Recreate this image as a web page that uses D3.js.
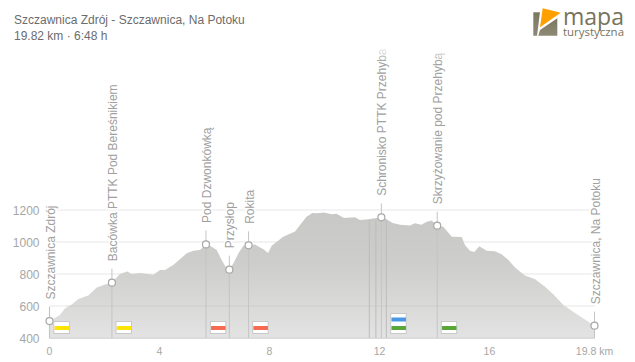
<!DOCTYPE html>
<html><head><meta charset="utf-8">
<script src="https://cdn.jsdelivr.net/npm/d3@7"></script>
<style>html,body{margin:0;padding:0;background:#fff}svg{display:block}text{font-family:"Liberation Sans",Arial,sans-serif}</style>
</head><body><svg id="c" width="635" height="362"></svg>
<script>
const titleLines = ["Szczawnica Zdrój - Szczawnica, Na Potoku", "19.82 km · 6:48 h"];
const km = [0,.38,.56,.81,1.05,1.41,1.72,2.02,2.27,2.56,2.83,2.99,3.29,3.78,4.02,4.2,4.5,4.99,5.23,5.47,5.69,5.84,6.08,6.26,6.44,6.54,6.69,6.87,7.05,7.24,7.47,7.78,7.95,8.08,8.5,8.93,9.11,9.35,9.56,9.74,9.98,10.26,10.44,10.71,11.11,11.29,11.59,11.9,12.07,12.26,12.48,12.75,13.11,13.29,13.53,13.72,13.9,14.1,14.32,14.63,14.99,15.11,15.29,15.45,15.63,15.9,16.2,16.44,16.69,16.93,17.29,17.66,18.02,18.32,18.69,19.11,19.82];
const elevation = [506,544,585,610,644,665,715,735,746,800,815,800,806,796,825,825,856,929,946,950,985,977,950,888,835,827,867,929,977,979,985,954,931,977,1033,1065,1106,1158,1181,1179,1185,1173,1177,1150,1154,1137,1142,1150,1154,1142,1119,1108,1103,1117,1108,1127,1135,1102,1096,1033,1031,981,946,937,973,946,942,923,888,840,790,767,721,673,606,556,477];
const yTicks = [400,600,800,1000,1200];
const xTicks = [0,4,8,12,16];
const lastTickKm = 19.82, lastTickLabel = "19.8 km";
const wpNames = ["Szczawnica Zdrój","Bacówka PTTK Pod Bereśnikiem","Pod Dzwonkówką","Przysłop","Rokita","Schronisko PTTK Przehyba","Skrzyżowanie pod Przehybą","Szczawnica, Na Potoku"];
const wpKm = [0,2.27,5.69,6.54,7.24,12.07,14.1,19.82];
const wpElev = [506,746,985,827,979,1154,1102,477];
const extraLineKm = [11.63,11.87,12.25];
const trailKm = [.44,2.7,6.13,7.67,12.69,14.53];
const trailColors = [["#ffe400"],["#ffe400"],["#f56b4f"],["#f56b4f"],["#4a98e4","#5aa63a"],["#5aa63a"]];

const x = d3.scaleLinear().domain([0,19.82]).range([49.5,594.5]);
const y = d3.scaleLinear().domain([400,1200]).range([338,210]);
const svg = d3.select("#c");
const defs = svg.append("defs");
const g1 = defs.append("linearGradient").attr("id","fillG").attr("x1",0).attr("x2",0).attr("y1",0).attr("y2",1);
g1.append("stop").attr("offset",0).attr("stop-color","#c8c8c6");
g1.append("stop").attr("offset",.4).attr("stop-color","#cdcdcb");
g1.append("stop").attr("offset",1).attr("stop-color","#e3e3e3");
const g2 = defs.append("linearGradient").attr("id","fade").attr("x1",0).attr("x2",0).attr("y1",0).attr("y2",1);
g2.append("stop").attr("offset",0).attr("stop-color","#fff").attr("stop-opacity",1);
g2.append("stop").attr("offset",1).attr("stop-color","#fff").attr("stop-opacity",0);
const g3 = defs.append("linearGradient").attr("id","logoG").attr("x1",0).attr("x2",0).attr("y1",0).attr("y2",1);
g3.append("stop").attr("offset",0).attr("stop-color","#7c785e");
g3.append("stop").attr("offset",1).attr("stop-color","#8d8975");

// titles
svg.selectAll("text.t").data(titleLines).join("text").attr("class","t")
  .attr("x",14).attr("y",(d,i)=>24+i*16).attr("font-size",12).attr("fill","#6c6c6c").text(d=>d);

// logo
const logo = svg.append("g");
logo.append("path").attr("d","M533.3 12.3H540L537 35.7H533.3Z").attr("fill","url(#logoG)");
logo.append("path").attr("d","M538.3 35.7L540 30L557.3 18.3V35.7Z").attr("fill","url(#logoG)");
logo.append("path").attr("d","M542.7 8.3L560.7 12.7L540 27.3Z").attr("fill","#ff9f00");
logo.append("text").attr("x",563).attr("y",24.5).attr("font-size",23).attr("textLength",61).attr("lengthAdjust","spacingAndGlyphs").attr("fill","#77735c").style("font-family","'Open Sans'").text("mapa");
logo.append("text").attr("x",563).attr("y",36).attr("font-size",11).attr("textLength",61).attr("lengthAdjust","spacingAndGlyphs").attr("fill","#77735c").style("font-family","'Open Sans'").text("turystyczna");

// grid
svg.append("g").selectAll("line").data(yTicks.slice(1)).join("line")
  .attr("x1",49.5).attr("x2",594.5).attr("y1",d=>y(d)).attr("y2",d=>y(d)).attr("stroke","#f3f3f3").attr("stroke-width",2);

// area
const area = d3.area().x((d,i)=>x(km[i])).y0(y(400)).y1((d,i)=>y(elevation[i]));
svg.append("line").attr("x1",49.5).attr("x2",49.5).attr("y1",y(600)).attr("y2",y(400)).attr("stroke","#ececec").attr("stroke-width",1.5);
svg.append("path").datum(km).attr("d",area).attr("fill","url(#fillG)");
svg.append("line").attr("x1",x(0.6)).attr("x2",x(18.65)).attr("y1",y(600)).attr("y2",y(600)).attr("stroke","#000").attr("stroke-opacity",.025).attr("stroke-width",2);
svg.append("line").attr("x1",49).attr("x2",595).attr("y1",338).attr("y2",338).attr("stroke","#dcdcdc").attr("stroke-width",2);

// lines
svg.append("g").selectAll("line").data(extraLineKm).join("line")
  .attr("x1",d=>x(d)).attr("x2",d=>x(d)).attr("y1",y(1135)).attr("y2",338).attr("stroke","#bcbcbc");
const wg = svg.append("g").selectAll("g").data(wpNames).join("g");
wg.append("text").attr("transform",(d,i)=>`translate(${x(wpKm[i])+5},${y(wpElev[i])-21.5}) rotate(-90)`)
  .attr("font-size",12).attr("fill","#a0a0a0").attr("stroke","#fff").attr("stroke-width",3).attr("paint-order","stroke").text(d=>d);
wg.append("line").attr("x1",(d,i)=>x(wpKm[i])).attr("x2",(d,i)=>x(wpKm[i])).attr("y1",(d,i)=>y(wpElev[i])-14).attr("y2",338).attr("stroke","#c4c4c4");
wg.append("circle").attr("cx",(d,i)=>x(wpKm[i])).attr("cy",(d,i)=>y(wpElev[i])).attr("r",3.5).attr("fill","#fff").attr("stroke","#a8a8a8").attr("stroke-width",1.2);
svg.append("rect").attr("x",60).attr("y",46).attr("width",570).attr("height",16).attr("fill","url(#fade)");

// trail badges
const tg = svg.append("g").selectAll("g").data(trailKm).join("g");
tg.each(function(d,i){
  const colors = trailColors[i], n = colors.length, h = n===1?12:20, cx = x(d), b = 333.5;
  const s = d3.select(this);
  s.append("rect").attr("x",cx-7.75).attr("y",b-h).attr("width",15.5).attr("height",h).attr("fill","#fff").attr("stroke","#c8c8c8");
  colors.forEach((c,j)=>s.append("rect").attr("x",cx-7).attr("y",b-7.5-(n-1-j)*8.5).attr("width",14.5).attr("height",4).attr("fill",c));
});

// axes text
svg.selectAll("text.yl").data(yTicks).join("text").attr("class","yl").attr("x",39.5).attr("y",d=>y(d)+4.5).attr("text-anchor","end")
  .attr("font-size",12).attr("fill","#a6a6a6").text(d=>d);
svg.selectAll("text.xl").data(xTicks).join("text").attr("class","xl").attr("x",d=>x(d)).attr("y",355).attr("text-anchor","middle")
  .attr("font-size",10.5).attr("fill","#a6a6a6").text(d=>d);
svg.append("text").attr("x",x(lastTickKm)).attr("y",355).attr("text-anchor","middle").attr("font-size",10.5).attr("fill","#a6a6a6").text(lastTickLabel);
</script></body></html>
